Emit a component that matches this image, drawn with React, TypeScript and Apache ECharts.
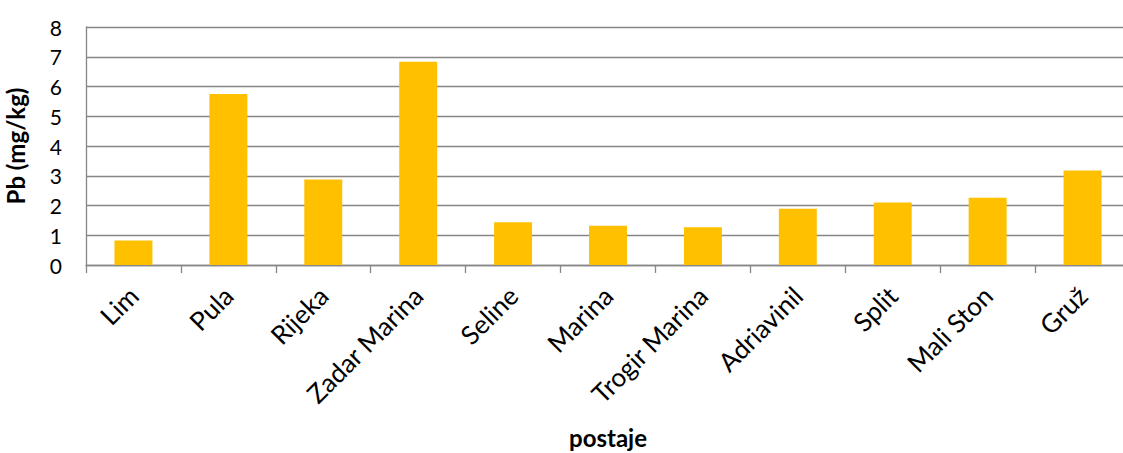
import React, { useEffect, useRef } from "react";
import * as echarts from "echarts";

const categories = ["Lim", "Pula", "Rijeka", "Zadar Marina", "Seline", "Marina", "Trogir Marina", "Adriavinil", "Split", "Mali Ston", "Gruž"];
const pbValues = [0.82, 5.75, 2.87, 6.83, 1.44, 1.32, 1.27, 1.89, 2.1, 2.26, 3.18];
const yTicks = { min: 0, max: 8, interval: 1 };

const FONT = "Lato, 'Liberation Sans', sans-serif";

export default function App() {
  const ref = useRef<HTMLDivElement>(null);
  useEffect(() => {
    if (!ref.current) return;
    const chart = echarts.init(ref.current, undefined, { renderer: "svg" });
    chart.setOption({
      animation: false,
      backgroundColor: "#ffffff",
      grid: { left: 86, top: 27, width: 1044, height: 238, containLabel: false, outerBoundsMode: "none" },
      xAxis: {
        type: "category",
        data: categories,
        name: "postaje",
        nameLocation: "middle",
        nameGap: 160,
        nameTextStyle: { fontFamily: FONT, fontWeight: "bold", fontSize: 24, color: "#000" },
        axisLine: { lineStyle: { color: "#868686", width: 1.3 } },
        axisTick: { show: true, length: 8, lineStyle: { color: "#868686", width: 1.3 } },
        axisLabel: { rotate: 45, margin: 26, fontFamily: FONT, fontSize: 26, color: "#000", interval: 0 },
      },
      yAxis: {
        type: "value",
        min: yTicks.min,
        max: yTicks.max,
        interval: yTicks.interval,
        name: "Pb (mg/kg)",
        nameLocation: "middle",
        nameGap: 59,
        nameTextStyle: { fontFamily: FONT, fontWeight: "bold", fontSize: 24, color: "#000" },
        axisLine: { show: true, lineStyle: { color: "#868686", width: 1.3 } },
        axisTick: { show: false },
        axisLabel: { margin: 24, fontFamily: FONT, fontSize: 21, color: "#000" },
        splitLine: { show: true, lineStyle: { color: "#868686", width: 1.3 } },
      },
      series: [
        {
          type: "bar",
          data: pbValues,
          barWidth: "40%",
          itemStyle: { color: "#FFC000" },
        },
      ],
    });
    return () => chart.dispose();
  }, []);
  return <div ref={ref} style={{ position: "fixed", left: 0, top: 0, width: 1123, height: 453 }} />;
}
